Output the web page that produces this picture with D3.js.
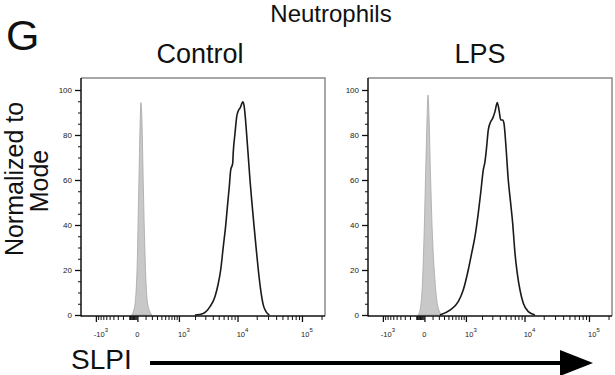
<!DOCTYPE html>
<html><head><meta charset="utf-8">
<script src="https://cdn.jsdelivr.net/npm/d3@7/dist/d3.min.js"></script>
<style>
html,body{margin:0;padding:0;background:#fff;}
svg{display:block;font-family:"Liberation Sans",Arial,Helvetica,sans-serif;}
</style></head>
<body>
<svg id="chart" width="615" height="375"></svg>
<script>
// ---------- DATA ----------
const panelTitles = ["Control", "LPS"];
// [SLPI intensity, % of mode]
const controlIsotype = [[-68,0],[-40,2.2],[-16,9.6],[-2,23],[9,45],[20,67],[31,86.7],[40,94.4],[52,86.7],[68,60],[87,33.3],[105,15.6],[130,5.2],[167,1.5],[201,0]];
const controlSLPI = [[1990,0],[2770,0.7],[3590,3.7],[4340,8.1],[4920,14],[5380,20],[5930,30.4],[6480,39.7],[6980,49.6],[7400,57],[7790,64.4],[8380,67.4],[8570,72.6],[9120,80.7],[9700,88.1],[10430,91.1],[10940,91.9],[11460,93.3],[12060,94.8],[12640,93.3],[13250,88],[13940,80],[14770,70.4],[15700,60],[16870,49.6],[18130,39.7],[19480,30.4],[21160,20],[23060,11.1],[25310,4.4],[27870,1.5],[31360,0]];
const lpsIsotype = [[-74,0],[-43,3.7],[-20,15.6],[-2,37.8],[16,67.4],[31,89.6],[40,97.8],[52,89.6],[74,60],[101,33.3],[135,15.6],[172,5.2],[232,0.7],[271,0]];
const lpsSLPI = [[219,0],[439,2.2],[691,5.9],[882,11.1],[1111,20],[1291,27.4],[1488,34.8],[1709,45.2],[1887,54.1],[2098,64.4],[2246,68.1],[2404,74.8],[2561,82.2],[2814,85.9],[3043,87.4],[3326,90.4],[3634,94.4],[3921,90.4],[4135,86.7],[4461,86.7],[4684,85.2],[5050,74.8],[5501,60],[6016,49.6],[6480,40.7],[7054,27.4],[7674,18.5],[8475,11.1],[9560,5.2],[11464,1.5],[14608,0]];

const xMajorTicks = [-1000, 0, 1000, 10000, 100000];
const xTickBase = ["-10", "0", "10", "10", "10"];
const xTickExp = ["3", "", "3", "4", "5"];
const xMinorTicks = [-900,-800,-700,-600,-500,-400,-300,-200,-100,
  -90,-80,-70,-60,-50,-40,-30,-20,-10,
  100,200,300,400,500,600,700,800,900,
  2000,3000,4000,5000,6000,7000,8000,9000,
  20000,30000,40000,50000,60000,70000,80000,90000,200000];
const yMajorTicks = [0, 20, 40, 60, 80, 100];
const yMinorTicks = [5,10,15,25,30,35,45,50,55,65,70,75,85,90,95];

// ---------- LAYOUT ----------
const svg = d3.select("#chart");
const panelLefts = [81, 368];
const panelW = 244;
const frameTop = 78, baseY = 315;
const series = [[controlIsotype, controlSLPI], [lpsIsotype, lpsSLPI]];
const titleX = [200, 480];

const y = d3.scaleLinear().domain([0, 100]).range([baseY, 90]);

svg.append("text").attr("x", 6).attr("y", 50).attr("font-size", 43).attr("fill", "#111").text("G");
svg.append("text").attr("x", 331).attr("y", 22).attr("font-size", 24).attr("text-anchor", "middle").attr("fill", "#111").text("Neutrophils");

panelLefts.forEach((left, i) => {
  const x = d3.scaleSymlog().constant(300).domain([-1900, 226000]).range([left, left + panelW]);
  const g = svg.append("g");

  svg.append("text").attr("x", titleX[i]).attr("y", 63).attr("font-size", 27)
    .attr("text-anchor", "middle").attr("fill", "#111").text(panelTitles[i]);

  g.append("path").attr("d", `M${left},${frameTop}H${left + panelW}V${baseY + 1}`)
    .attr("fill", "none").attr("stroke", "#8a8a8a").attr("stroke-width", 1.5);

  const [iso, slpi] = series[i];
  const area = d3.area().x(d => x(d[0])).y0(y(0)).y1(d => y(d[1])).curve(d3.curveMonotoneX);
  g.append("path").datum(iso).attr("d", area).attr("fill", "#c8c8c8")
    .attr("stroke", "#a6a6a6").attr("stroke-width", 0.8);

  const line = d3.line().x(d => x(d[0])).y(d => y(d[1])).curve(d3.curveMonotoneX);
  g.append("path").datum(slpi).attr("d", line).attr("fill", "none")
    .attr("stroke", "#1a1a1a").attr("stroke-width", 1.6).attr("stroke-linejoin", "round");

  const yAx = g.append("g").attr("transform", `translate(${left},0)`)
    .call(d3.axisLeft(y).tickValues(yMajorTicks).tickSize(6).tickPadding(3).tickSizeOuter(0));
  yAx.select(".domain").remove();
  yAx.selectAll("text").attr("font-size", 8).attr("fill", "#222").attr("font-family", "Liberation Sans, Arial, sans-serif");
  yAx.selectAll("line").attr("stroke", "#111").attr("stroke-width", 1.3);
  const yMin = g.append("g").attr("transform", `translate(${left},0)`)
    .call(d3.axisLeft(y).tickValues(yMinorTicks).tickSize(3).tickFormat(""));
  yMin.select(".domain").remove();
  yMin.selectAll("line").attr("stroke", "#111").attr("stroke-width", 1);

  const xAx = g.append("g").attr("transform", `translate(0,${baseY + 1})`)
    .call(d3.axisBottom(x).tickValues(xMajorTicks).tickSize(6).tickFormat(""));
  xAx.select(".domain").remove();
  xAx.selectAll("line").attr("stroke", "#111").attr("stroke-width", 1.3);
  const xMin = g.append("g").attr("transform", `translate(0,${baseY + 1})`)
    .call(d3.axisBottom(x).tickValues(xMinorTicks).tickSize(4).tickFormat(""));
  xMin.select(".domain").remove();
  xMin.selectAll("line").attr("stroke", "#111").attr("stroke-width", 1);

  xMajorTicks.forEach((v, k) => {
    const t = g.append("text").attr("x", x(v) + (xTickExp[k] ? 5 : 0)).attr("y", 337)
      .attr("font-size", 7.5).attr("text-anchor", "middle").attr("fill", "#222");
    t.append("tspan").text(xTickBase[k]);
    if (xTickExp[k]) t.append("tspan").attr("dy", -5).attr("font-size", 6).text(xTickExp[k]);
  });

  g.append("line").attr("x1", left).attr("x2", left).attr("y1", frameTop).attr("y2", baseY + 1.5)
    .attr("stroke", "#111").attr("stroke-width", 1.5);
  g.append("line").attr("x1", left).attr("x2", left + panelW).attr("y1", baseY + 1).attr("y2", baseY + 1)
    .attr("stroke", "#111").attr("stroke-width", 1.5);
});

svg.append("text").attr("transform", "translate(23,179) rotate(-90)").attr("font-size", 25)
  .attr("text-anchor", "middle").attr("fill", "#111").text("Normalized to");
svg.append("text").attr("transform", "translate(48,181) rotate(-90)").attr("font-size", 25)
  .attr("text-anchor", "middle").attr("fill", "#111").text("Mode");

svg.append("text").attr("x", 71).attr("y", 369).attr("font-size", 28).attr("fill", "#111").text("SLPI");
svg.append("line").attr("x1", 150).attr("x2", 563).attr("y1", 363).attr("y2", 363)
  .attr("stroke", "#000").attr("stroke-width", 4);
svg.append("path").attr("d", "M560,350L593,363L560,376Z").attr("fill", "#000");
</script>
</body></html>
